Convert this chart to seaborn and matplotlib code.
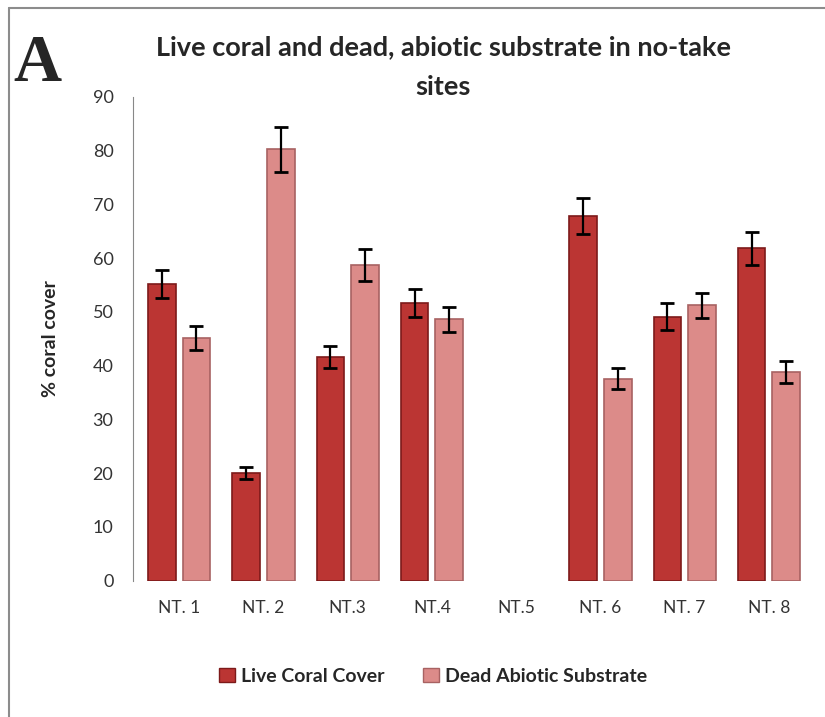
import numpy as np
import pandas as pd
import matplotlib.pyplot as plt
import seaborn as sns
from matplotlib.lines import Line2D
from matplotlib.patches import Patch

sites = ["NT. 1", "NT. 2", "NT.3", "NT.4", "NT.5", "NT. 6", "NT. 7", "NT. 8"]
live = [55.1, 20.0, 41.6, 51.6, np.nan, 67.8, 49.1, 61.8]
live_err = [2.6, 1.1, 2.1, 2.6, np.nan, 3.3, 2.5, 3.0]
dead = [45.1, 80.2, 58.7, 48.6, np.nan, 37.6, 51.2, 38.8]
dead_err = [2.2, 4.1, 3.0, 2.4, np.nan, 2.0, 2.4, 2.0]
series = ["Live Coral Cover", "Dead Abiotic Substrate"]
colors = ["#bb3533", "#dc8b89"]
edges = ["#7d1a1a", "#a86262"]

df = pd.DataFrame({
    "Site": sites * 2,
    "Cover": live + dead,
    "Type": [series[0]] * len(sites) + [series[1]] * len(sites),
})

sns.set_style("white")
plt.rcParams["font.family"] = ["Lato", "DejaVu Sans"]

fig = plt.figure(figsize=(8.25, 7.17), dpi=100)
ax = fig.add_axes([0.161, 0.19, 0.817, 0.675])

sns.barplot(data=df, x="Site", y="Cover", hue="Type", order=sites,
            hue_order=series, palette=colors, saturation=1, width=0.82,
            gap=0.2, errorbar=None, legend=False, ax=ax)

# error bars: match each drawn bar to its site and series by position
for p in ax.patches:
    xc = p.get_x() + p.get_width() / 2
    i = int(round(xc))
    s = 0 if xc < i else 1
    val = [live, dead][s][i]
    err = [live_err, dead_err][s][i]
    p.set_edgecolor(edges[s])
    p.set_linewidth(1.2)
    ax.errorbar(xc, val, yerr=err, fmt="none", ecolor="black",
                elinewidth=1.6, capsize=5, capthick=2, zorder=5)

ax.set_ylim(0, 90)
ax.set_yticks(range(0, 91, 10))
ax.set_xlim(-0.55, 7.45)
ax.set_xlabel("")
ax.set_ylabel("% coral cover", fontsize=14, fontweight="bold", labelpad=24)
ax.tick_params(axis="y", length=0, labelsize=13, labelcolor="#333333", pad=14)
ax.tick_params(axis="x", length=0, labelsize=12.5, labelcolor="#333333", pad=14)
sns.despine(ax=ax, bottom=True)
ax.spines["left"].set_color("#888888")

fig.text(0.537, 0.934, "Live coral and dead, abiotic substrate in no-take",
         ha="center", va="center", fontsize=19.5, fontweight="bold")
fig.text(0.537, 0.878, "sites", ha="center", va="center", fontsize=19.5,
         fontweight="bold")
fig.text(0.016, 0.91, "A", ha="left", va="center", fontsize=48,
         fontweight="bold", family="Liberation Serif")

handles = [Patch(facecolor=colors[i], edgecolor=edges[i]) for i in range(2)]
fig.legend(handles, series, loc="center", bbox_to_anchor=(0.525, 0.057),
           ncol=2, frameon=False, handlelength=0.8, handleheight=0.8,
           handletextpad=0.3, columnspacing=2.0,
           prop={"weight": "bold", "size": 14})

# border of the figure panel
fig.add_artist(Line2D([9 / 825, 9 / 825], [0, 1 - 8 / 717], color="#8c8c8c", lw=1.5))
fig.add_artist(Line2D([9 / 825, 1], [1 - 8 / 717, 1 - 8 / 717], color="#8c8c8c", lw=1.5))

plt.savefig("out.png", dpi=100)
